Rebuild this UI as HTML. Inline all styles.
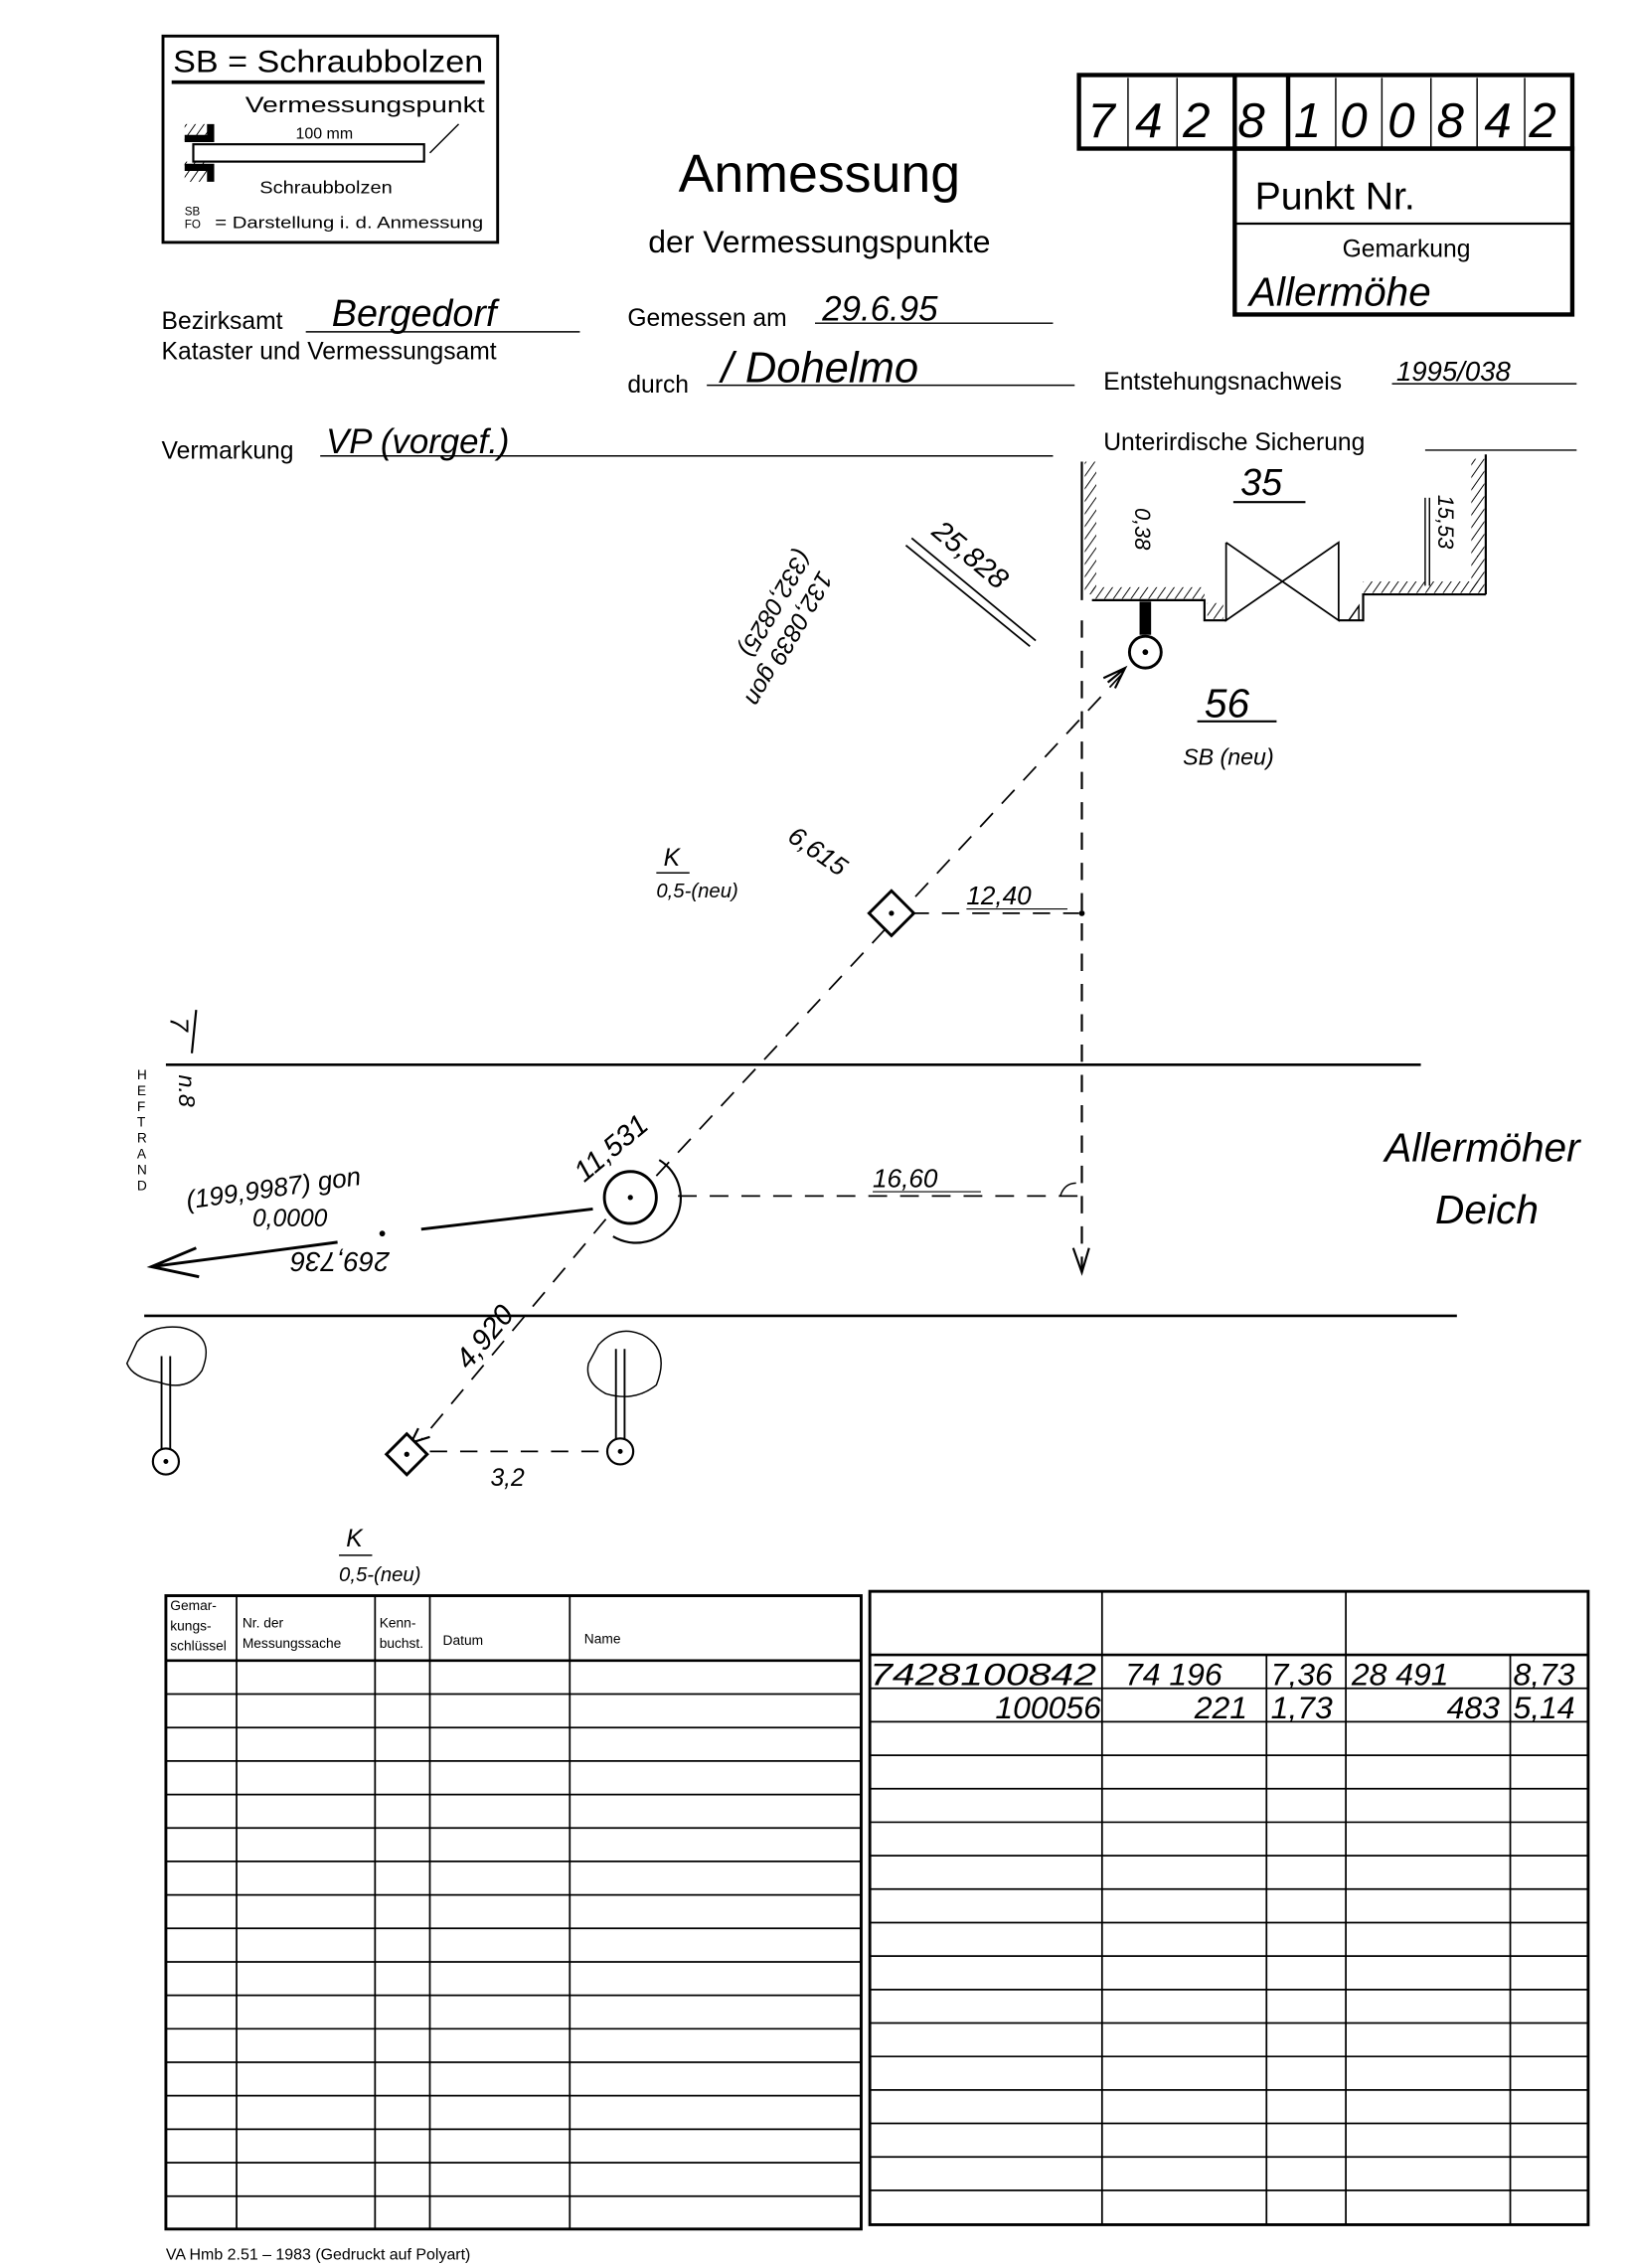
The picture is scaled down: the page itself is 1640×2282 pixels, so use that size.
<!DOCTYPE html>
<html><head><meta charset="utf-8"><style>
html,body{margin:0;padding:0;background:#fff;width:1640px;height:2282px;overflow:hidden}
svg{display:block}
text{font-family:"Liberation Sans",sans-serif;fill:#000}
.h{font-family:"Liberation Sans",sans-serif;font-style:italic;font-weight:normal}
</style></head><body>
<svg width="1640" height="2282" viewBox="0 0 1130 1572" preserveAspectRatio="none" xmlns="http://www.w3.org/2000/svg">
<defs>
<pattern id="hat" width="5" height="5" patternUnits="userSpaceOnUse" patternTransform="rotate(35)"><line x1="0" y1="0" x2="0" y2="5" stroke="#000" stroke-width="1.3"/></pattern>
</defs>
<g stroke="#000" fill="none">
<rect x="113" y="25" width="232" height="143" stroke-width="2"/>
<line x1="119" y1="57" x2="336" y2="57" stroke-width="2.5"/>
<rect x="128" y="86" width="16" height="12" fill="url(#hat)" stroke="none"/>
<rect x="128" y="112" width="16" height="14" fill="url(#hat)" stroke="none"/>
<path d="M128 96 H146 V86 M128 116 H146 V126" stroke-width="5"/>
<rect x="134" y="100" width="160" height="12" stroke-width="1.5"/>
<line x1="298" y1="106" x2="318" y2="86" stroke-width="1"/>
<rect x="748" y="52" width="342" height="51" stroke-width="3"/>
<line x1="856" y1="52" x2="856" y2="103" stroke-width="3"/>
<line x1="893" y1="52" x2="893" y2="103" stroke-width="3"/>
<g stroke-width="1"><line x1="782" y1="54" x2="782" y2="102"/><line x1="816" y1="54" x2="816" y2="102"/><line x1="926" y1="54" x2="926" y2="102"/><line x1="958" y1="54" x2="958" y2="102"/><line x1="992" y1="54" x2="992" y2="102"/><line x1="1024" y1="54" x2="1024" y2="102"/><line x1="1057" y1="54" x2="1057" y2="102"/></g>
<rect x="856" y="103" width="234" height="115" stroke-width="3"/>
<line x1="856" y1="155" x2="1090" y2="155" stroke-width="1.5"/>
<g stroke-width="1">
<line x1="212" y1="230" x2="402" y2="230"/>
<line x1="565" y1="224" x2="730" y2="224"/>
<line x1="490" y1="267" x2="745" y2="267"/>
<line x1="965" y1="266" x2="1093" y2="266"/>
<line x1="222" y1="316" x2="730" y2="316"/>
<line x1="988" y1="312" x2="1093" y2="312"/>
</g>
<line x1="750" y1="320" x2="750" y2="416" stroke-width="1.5"/>
<rect x="752" y="320" width="8" height="92" fill="url(#hat)" stroke="none"/>
<path d="M757 416 H835 V430 H850 M928 430 H945 V412 H1030" stroke-width="1.5"/>
<rect x="757" y="407" width="78" height="8" fill="url(#hat)" stroke="none"/>
<rect x="945" y="403" width="82" height="8" fill="url(#hat)" stroke="none"/>
<rect x="837" y="418" width="11" height="11" fill="url(#hat)" stroke="none"/>
<path d="M850 376 V430 L928 376 V430 L850 376" stroke-width="1.2"/>
<path d="M935 430 L942 420 L942 430" stroke-width="1"/>
<line x1="1030" y1="315" x2="1030" y2="412" stroke-width="1.5"/>
<rect x="1020" y="318" width="9" height="92" fill="url(#hat)" stroke="none"/>
<line x1="988" y1="345" x2="988" y2="406" stroke-width="1"/><line x1="991" y1="345" x2="991" y2="406" stroke-width="1"/>
<line x1="855" y1="348" x2="905" y2="348" stroke-width="1.5"/>
<rect x="790" y="417" width="8" height="23" fill="#000" stroke="none"/>
<circle cx="794" cy="452" r="11" stroke-width="2"/>
<circle cx="794" cy="452" r="1.5" fill="#000"/>
<line x1="830" y1="500" x2="885" y2="500" stroke-width="1.5"/>
<line x1="750" y1="430" x2="750" y2="880" stroke-width="1.5" stroke-dasharray="12,9"/>
<path d="M744 865 L750 882 L755 865" stroke-width="1.5"/>
<circle cx="750" cy="633" r="1.5" fill="#000"/>
<line x1="455" y1="815" x2="778" y2="467" stroke-width="1.2" stroke-dasharray="13,9"/>
<path d="M765 470 L780 463 L773 477 M768 473 L779 464" stroke-width="1.5"/>
<rect x="607" y="622" width="22" height="22" transform="rotate(45 618 633)" stroke-width="2" fill="#fff"/>
<circle cx="618" cy="633" r="1.3" fill="#000"/>
<line x1="632" y1="633" x2="748" y2="633" stroke-width="1.2" stroke-dasharray="12,9"/>
<line x1="670" y1="630" x2="740" y2="630" stroke-width="0.8"/>
<line x1="632" y1="373" x2="718" y2="444" stroke-width="1.2"/>
<line x1="628" y1="378" x2="714" y2="448" stroke-width="1.2"/>
<line x1="115" y1="738" x2="985" y2="738" stroke-width="1.8"/>
<line x1="100" y1="912" x2="1010" y2="912" stroke-width="1.8"/>
<circle cx="437" cy="830" r="18" stroke-width="2"/>
<circle cx="437" cy="830" r="1.3" fill="#000"/>
<path d="M457 804 A30 30 0 0 1 425 857" stroke-width="1.5"/>
<line x1="470" y1="829" x2="748" y2="829" stroke-width="1.2" stroke-dasharray="13,9"/>
<path d="M735 829 Q738 820 746 820" stroke-width="1"/>
<line x1="605" y1="826" x2="680" y2="826" stroke-width="0.8"/>
<line x1="411" y1="838" x2="292" y2="852" stroke-width="2"/>
<circle cx="265" cy="855" r="1.5" fill="#000"/>
<line x1="234" y1="861" x2="105" y2="878" stroke-width="2"/>
<path d="M136 865 L105 878 L138 885" stroke-width="2"/>
<line x1="420" y1="845" x2="292" y2="998" stroke-width="1.2" stroke-dasharray="13,9"/>
<path d="M290 990 L285 1000 L298 996" stroke-width="1.5"/>
<rect x="272" y="998" width="20" height="20" transform="rotate(45 282 1008)" stroke-width="2" fill="#fff"/>
<circle cx="282" cy="1008" r="1.3" fill="#000"/>
<line x1="298" y1="1006" x2="420" y2="1006" stroke-width="1.2" stroke-dasharray="12,9"/>
<circle cx="115" cy="1013" r="9" stroke-width="1.5"/><circle cx="115" cy="1013" r="1.2" fill="#000"/>
<path d="M112 1004 V940 M118 1004 V940" stroke-width="1.3"/>
<path d="M95 930 Q105 918 125 920 Q150 925 140 950 Q130 965 110 958 Q92 955 88 945 Z" stroke-width="1"/>
<circle cx="430" cy="1006" r="9" stroke-width="1.5"/><circle cx="430" cy="1006" r="1.2" fill="#000"/>
<path d="M427 997 V935 M433 997 V935" stroke-width="1.3"/>
<path d="M415 932 Q428 918 445 925 Q465 935 455 960 Q440 972 420 966 Q405 958 408 945 Z" stroke-width="1"/>
<line x1="136" y1="700" x2="133" y2="730" stroke-width="1.5"/>
<rect x="115" y="1106" width="482" height="439" stroke-width="2"/>
<line x1="115" y1="1151" x2="597" y2="1151" stroke-width="1.8"/>
<g stroke-width="1.2">
<line x1="164" y1="1106" x2="164" y2="1545"/><line x1="260" y1="1106" x2="260" y2="1545"/><line x1="298" y1="1106" x2="298" y2="1545"/><line x1="395" y1="1106" x2="395" y2="1545"/>
<line x1="115" y1="1174.2" x2="597" y2="1174.2"/><line x1="115" y1="1197.4" x2="597" y2="1197.4"/><line x1="115" y1="1220.6" x2="597" y2="1220.6"/><line x1="115" y1="1243.8" x2="597" y2="1243.8"/><line x1="115" y1="1267" x2="597" y2="1267"/><line x1="115" y1="1290.2" x2="597" y2="1290.2"/><line x1="115" y1="1313.4" x2="597" y2="1313.4"/><line x1="115" y1="1336.6" x2="597" y2="1336.6"/><line x1="115" y1="1359.8" x2="597" y2="1359.8"/><line x1="115" y1="1383" x2="597" y2="1383"/><line x1="115" y1="1406.2" x2="597" y2="1406.2"/><line x1="115" y1="1429.4" x2="597" y2="1429.4"/><line x1="115" y1="1452.6" x2="597" y2="1452.6"/><line x1="115" y1="1475.8" x2="597" y2="1475.8"/><line x1="115" y1="1499" x2="597" y2="1499"/><line x1="115" y1="1522.2" x2="597" y2="1522.2"/>
</g>
<rect x="603" y="1103" width="498" height="439" stroke-width="2"/>
<line x1="603" y1="1147" x2="1101" y2="1147" stroke-width="1.8"/>
<g stroke-width="1.2">
<line x1="764" y1="1103" x2="764" y2="1542"/><line x1="933" y1="1103" x2="933" y2="1542"/><line x1="878" y1="1147" x2="878" y2="1542"/><line x1="1047" y1="1147" x2="1047" y2="1542"/>
<line x1="603" y1="1170.2" x2="1101" y2="1170.2"/><line x1="603" y1="1193.4" x2="1101" y2="1193.4"/><line x1="603" y1="1216.6" x2="1101" y2="1216.6"/><line x1="603" y1="1239.8" x2="1101" y2="1239.8"/><line x1="603" y1="1263" x2="1101" y2="1263"/><line x1="603" y1="1286.2" x2="1101" y2="1286.2"/><line x1="603" y1="1309.4" x2="1101" y2="1309.4"/><line x1="603" y1="1332.6" x2="1101" y2="1332.6"/><line x1="603" y1="1355.8" x2="1101" y2="1355.8"/><line x1="603" y1="1379" x2="1101" y2="1379"/><line x1="603" y1="1402.2" x2="1101" y2="1402.2"/><line x1="603" y1="1425.4" x2="1101" y2="1425.4"/><line x1="603" y1="1448.6" x2="1101" y2="1448.6"/><line x1="603" y1="1471.8" x2="1101" y2="1471.8"/><line x1="603" y1="1495" x2="1101" y2="1495"/><line x1="603" y1="1518.2" x2="1101" y2="1518.2"/>
</g>
</g>

<text x="120" y="50" font-size="22" textLength="215" lengthAdjust="spacingAndGlyphs">SB = Schraubbolzen</text>
<text x="170" y="78" font-size="15" textLength="166" lengthAdjust="spacingAndGlyphs">Vermessungspunkt</text>
<text x="205" y="96" font-size="11">100 mm</text>
<text x="180" y="134" font-size="12" textLength="92" lengthAdjust="spacingAndGlyphs">Schraubbolzen</text>
<text x="128" y="149" font-size="8">SB</text>
<text x="128" y="158" font-size="8">FO</text>
<text x="149" y="158" font-size="11.5" textLength="186" lengthAdjust="spacingAndGlyphs">= Darstellung i. d. Anmessung</text>
<g class="h" font-size="34">
<text x="754" y="95" class="h">7</text><text x="787" y="95" class="h">4</text><text x="820" y="95" class="h">2</text><text x="858" y="95" class="h">8</text><text x="897" y="95" class="h">1</text><text x="929" y="95" class="h">0</text><text x="962" y="95" class="h">0</text><text x="996" y="95" class="h">8</text><text x="1029" y="95" class="h">4</text><text x="1060" y="95" class="h">2</text>
</g>
<text x="870" y="145" font-size="27">Punkt Nr.</text>
<text x="975" y="178" font-size="17" text-anchor="middle">Gemarkung</text>
<text x="866" y="212" font-size="28" class="h">Allermöhe</text>
<text x="568" y="133" font-size="37" text-anchor="middle">Anmessung</text>
<text x="568" y="175" font-size="22" text-anchor="middle">der Vermessungspunkte</text>
<text x="112" y="228" font-size="17">Bezirksamt</text>
<text x="112" y="249" font-size="17">Kataster und Vermessungsamt</text>
<text x="230" y="226" font-size="26" class="h">Bergedorf</text>
<text x="435" y="226" font-size="17">Gemessen am</text>
<text x="570" y="222" font-size="24" class="h">29.6.95</text>
<text x="435" y="272" font-size="17">durch</text>
<text x="500" y="265" font-size="30" class="h">/ Dohelmo</text>
<text x="765" y="270" font-size="17">Entstehungsnachweis</text>
<text x="968" y="264" font-size="19" class="h">1995/038</text>
<text x="112" y="318" font-size="17">Vermarkung</text>
<text x="226" y="314" font-size="24" class="h">VP (vorgef.)</text>
<text x="765" y="312" font-size="17">Unterirdische Sicherung</text>
<text x="860" y="343" font-size="26" class="h">35</text>
<text font-size="15" class="h" transform="translate(787,352) rotate(90)">0,38</text>
<text font-size="15" class="h" transform="translate(997,343) rotate(90)">15,53</text>
<text font-size="20" class="h" transform="translate(645,370) rotate(40)">25,828</text>
<text font-size="17" class="h" transform="translate(553,380) rotate(120)">(332,0825)</text>
<text font-size="17" class="h" transform="translate(568,395) rotate(120)">132,0839 gon</text>
<text x="835" y="497" font-size="28" class="h">56</text>
<text x="820" y="530" font-size="16" class="h">SB (neu)</text>
<text font-size="18" class="h" transform="translate(545,582) rotate(35)">6,615</text>
<text x="460" y="600" font-size="17" class="h">K</text>
<line x1="455" y1="605" x2="478" y2="605" stroke="#000" stroke-width="1"/>
<text x="455" y="622" font-size="14" class="h">0,5-(neu)</text>
<text x="670" y="627" font-size="18" class="h">12,40</text>
<text x="605" y="823" font-size="18" class="h">16,60</text>
<text font-size="20" class="h" transform="translate(405,820) rotate(-40)">11,531</text>
<text font-size="20" class="h" transform="translate(325,950) rotate(-50)">4,920</text>
<text x="340" y="1030" font-size="17" class="h">3,2</text>
<text x="960" y="805" font-size="28" class="h">Allermöher</text>
<text x="995" y="848" font-size="28" class="h">Deich</text>
<text font-size="18" class="h" transform="rotate(-8 130 838)" x="130" y="838">(199,9987) gon</text>
<text x="175" y="850" font-size="17" class="h">0,0000</text>
<text font-size="19" class="h" transform="translate(270,868) rotate(180)">269,736</text>
<g font-size="9.5"><text x="95" y="748">H</text><text x="95" y="759">E</text><text x="95" y="770">F</text><text x="95" y="781">T</text><text x="95" y="792">R</text><text x="95" y="803">A</text><text x="95" y="814">N</text><text x="95" y="825">D</text></g>
<text font-size="18" class="h" transform="translate(118,705) rotate(90)">7</text>
<text font-size="16" class="h" transform="translate(124,745) rotate(90)">n.8</text>
<text x="240" y="1072" font-size="17" class="h">K</text>
<line x1="235" y1="1078" x2="258" y2="1078" stroke="#000" stroke-width="1"/>
<text x="235" y="1096" font-size="14" class="h">0,5-(neu)</text>
<g font-size="9.5">
<text x="118" y="1116">Gemar-</text><text x="118" y="1130">kungs-</text><text x="118" y="1144">schlüssel</text>
<text x="168" y="1128">Nr. der</text><text x="168" y="1142">Messungssache</text>
<text x="263" y="1128">Kenn-</text><text x="263" y="1142">buchst.</text>
<text x="307" y="1140">Datum</text>
<text x="405" y="1139">Name</text>
</g>
<g font-size="22" class="h">
<text x="603" y="1168" textLength="157" lengthAdjust="spacingAndGlyphs" class="h">7428100842</text>
<text x="780" y="1168" class="h">74 196</text>
<text x="881" y="1168" class="h">7,36</text>
<text x="937" y="1168" class="h">28 491</text>
<text x="1049" y="1168" class="h">8,73</text>
<text x="690" y="1191" class="h">100056</text>
<text x="828" y="1191" class="h">221</text>
<text x="881" y="1191" class="h">1,73</text>
<text x="1003" y="1191" class="h">483</text>
<text x="1049" y="1191" class="h">5,14</text>
</g>
<text x="115" y="1566" font-size="11">VA Hmb 2.51 – 1983 (Gedruckt auf Polyart)</text>
</svg>
</body></html>
